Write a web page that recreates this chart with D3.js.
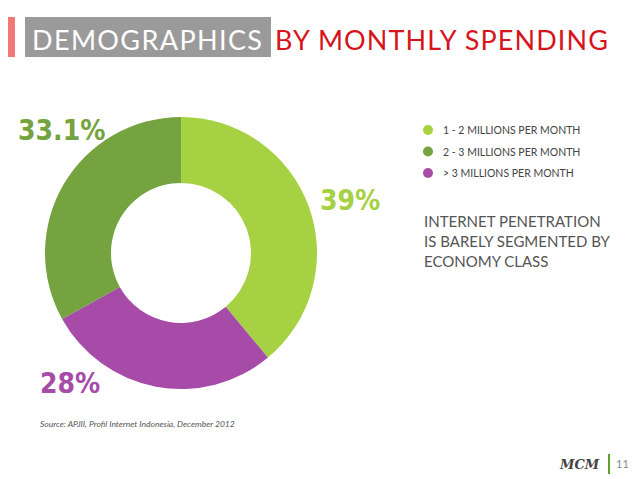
<!DOCTYPE html>
<html><head><meta charset="utf-8">
<script src="https://cdn.jsdelivr.net/npm/d3@7"></script>
<style>body{margin:0;background:#fff}svg{display:block}</style>
</head><body>
<svg id="c" width="638" height="479"></svg>
<script>
var categories = ['1 - 2 MILLIONS PER MONTH', '2 - 3 MILLIONS PER MONTH', '> 3 MILLIONS PER MONTH'];
var values = [39, 28, 33.1];
var valueLabels = ['39%', '28%', '33.1%'];
var colors = ['#a5d143', '#a64ca8', '#75a340'];
var legendColors = ['#a5d143', '#75a340', '#a64ca8'];

var svg = d3.select('#c');

// title
svg.append('rect').attr('x', 8).attr('y', 17).attr('width', 7).attr('height', 40).attr('fill', '#f07878');
svg.append('rect').attr('x', 25).attr('y', 17).attr('width', 246).attr('height', 40).attr('fill', '#9a9a9a');
svg.append('text').attr('x', 32).attr('y', 50).attr('font-family', 'Lato').attr('font-size', 27)
    .attr('textLength', 230).attr('fill', '#fff').text('DEMOGRAPHICS');
svg.append('text').attr('x', 275).attr('y', 50).attr('font-family', 'Lato').attr('font-size', 27)
    .attr('textLength', 333).attr('fill', '#d7141c').text('BY MONTHLY SPENDING');

// donut
var pie = d3.pie().sort(null).value(function(d){ return d; });
var arc = d3.arc().innerRadius(70).outerRadius(136);
var g = svg.append('g').attr('transform', 'translate(181,253)');
g.selectAll('path').data(pie(values)).enter().append('path')
    .attr('d', arc).attr('fill', function(d, i){ return colors[i]; });

// value labels
var labelPos = [[320, 210], [40, 393], [18, 140]];
svg.selectAll('.vl').data(valueLabels).enter().append('text')
    .attr('x', function(d, i){ return labelPos[i][0]; })
    .attr('y', function(d, i){ return labelPos[i][1]; })
    .attr('font-family', 'DejaVu Sans Condensed').attr('font-weight', 'bold').attr('font-size', 28)
    .attr('fill', function(d, i){ return colors[i]; })
    .text(function(d){ return d; });

// legend
var lg = svg.selectAll('.lg').data(categories).enter().append('g')
    .attr('transform', function(d, i){ return 'translate(428,' + (130 + i * 21.5) + ')'; });
lg.append('circle').attr('r', 5).attr('fill', function(d, i){ return legendColors[i]; });
lg.append('text').attr('x', 15).attr('y', 4).attr('font-family', 'Lato').attr('font-size', 10.5)
    .attr('fill', '#444').text(function(d){ return d; });

var note = ['INTERNET PENETRATION', 'IS BARELY SEGMENTED BY', 'ECONOMY CLASS'];
svg.selectAll('.nt').data(note).enter().append('text')
    .attr('x', 424).attr('y', function(d, i){ return 227 + i * 20; })
    .attr('font-family', 'Lato').attr('font-size', 15).attr('fill', '#555').text(function(d){ return d; });

svg.append('text').attr('x', 40).attr('y', 427).attr('font-family', 'Lato').attr('font-style', 'italic')
    .attr('font-size', 8.5).attr('fill', '#555').text('Source: APJII, Profil Internet Indonesia, December 2012');

// footer
svg.append('text').attr('x', 560).attr('y', 469).attr('font-family', 'DejaVu Serif').attr('font-style', 'italic')
    .attr('font-weight', 'bold').attr('font-size', 13).attr('fill', '#444').text('MCM');
svg.append('rect').attr('x', 608).attr('y', 454).attr('width', 2).attr('height', 20).attr('fill', '#5aa02c');
svg.append('text').attr('x', 616).attr('y', 468).attr('font-family', 'Lato').attr('font-size', 11)
    .attr('fill', '#888').text('11');
</script>
</body></html>
